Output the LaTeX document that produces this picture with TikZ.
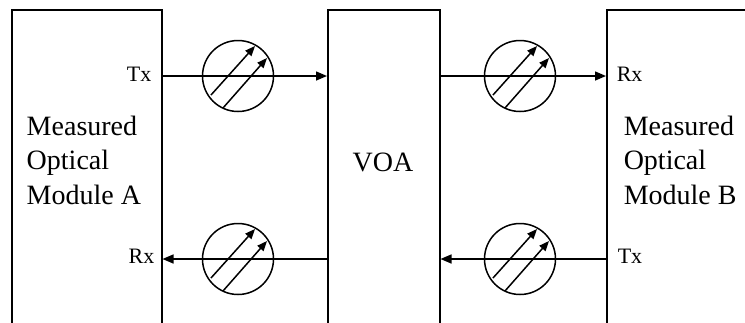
\documentclass[tikz,border=0pt]{standalone}
\usepackage{fontspec}
\setmainfont{Liberation Serif}
\usetikzlibrary{arrows.meta}

\begin{document}
\begin{tikzpicture}
  [x=1pt,y=-1pt,line width=1.5pt,
   box/.style={draw,rectangle,anchor=north west,inner sep=0pt},
   att/.style={draw,circle,minimum size=71pt,inner sep=0pt},
   big/.style={font=\fontsize{28}{34.5}\selectfont,align=left,inner sep=0pt},
   port/.style={font=\fontsize{22}{26}\selectfont,inner sep=0pt},
   sig/.style={-{Triangle[length=11pt,width=9pt]}},
   tilt/.style={-{Triangle[length=10pt,width=8pt]}}]
  \clip (0,0) rectangle (745,322);

  \node[box,minimum width=150pt,minimum height=340pt] (nma) at (11,9) {};
  \node[box,minimum width=112pt,minimum height=340pt] (nvoa) at (327,9) {};
  \node[box,minimum width=174pt,minimum height=340pt] (nmb) at (606,9) {};

  \node[big,anchor=north west] (la) at (26,115) {Measured\\Optical\\Module A};
  \node[big] (lvoa) at (383,162) {VOA};
  \node[big,anchor=north west] (lb) at (623,115) {Measured\\Optical\\Module B};

  \node[port,anchor=base east] (ptxa) at (152,81) {Tx};
  \node[port,anchor=base east] (prxa) at (155,263) {Rx};
  \node[port,anchor=base west] (prxb) at (616,81) {Rx};
  \node[port,anchor=base west] (ptxb) at (617,263) {Tx};

  \node[att] (nc1) at (238,76) {};
  \node[att] (nc2) at (520,76) {};
  \node[att] (nc3) at (238,259) {};
  \node[att] (nc4) at (520,259) {};

  \foreach \from/\to/\via in {nma.east/nvoa.west/nc1,nvoa.east/nmb.west/nc2,
                              nvoa.west/nma.east/nc3,nmb.west/nvoa.east/nc4}
    \draw[sig] (\from |- \via) -- (\to |- \via);

  \foreach \c in {nc1,nc2,nc3,nc4} {
    \draw[tilt,shift={(\c)}] (-27,19) -- (17,-30);
    \draw[tilt,shift={(\c)}] (-15,32) -- (29,-18);
  }

\end{tikzpicture}
\end{document}
